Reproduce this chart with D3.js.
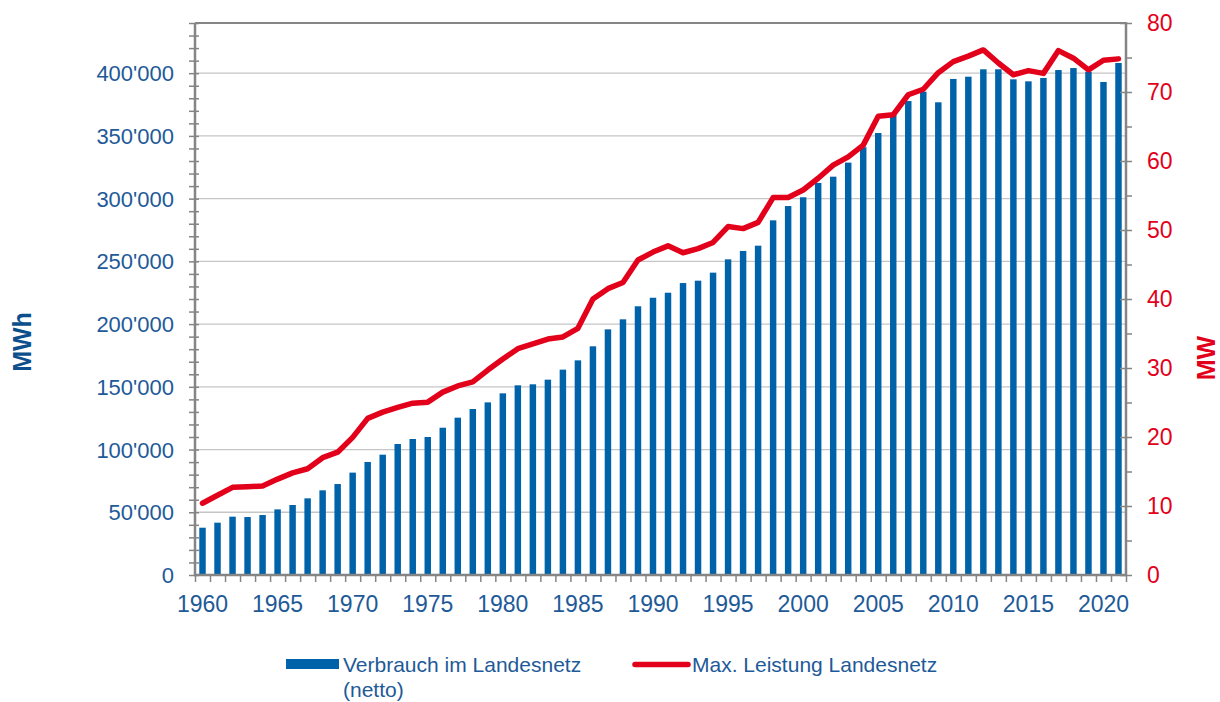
<!DOCTYPE html>
<html>
<head>
<meta charset="utf-8">
<script src="https://cdn.jsdelivr.net/npm/d3@7"></script>
<style>
  body { margin: 0; background: #fff; }
  svg text { font-family: "Liberation Sans", Arial, sans-serif; }
</style>
</head>
<body>
<div id="chart"></div>
<script>
// categories
var years = [1960, 1961, 1962, 1963, 1964, 1965, 1966, 1967, 1968, 1969,
    1970, 1971, 1972, 1973, 1974, 1975, 1976, 1977, 1978, 1979,
    1980, 1981, 1982, 1983, 1984, 1985, 1986, 1987, 1988, 1989,
    1990, 1991, 1992, 1993, 1994, 1995, 1996, 1997, 1998, 1999,
    2000, 2001, 2002, 2003, 2004, 2005, 2006, 2007, 2008, 2009,
    2010, 2011, 2012, 2013, 2014, 2015, 2016, 2017, 2018, 2019,
    2020, 2021];

// Verbrauch im Landesnetz (netto), MWh
var verbrauch = [37700, 41700, 46500, 46200, 47800, 52300, 55800, 61100, 67500, 72500,
    81600, 90100, 95900, 104400, 108400, 110000, 117400, 125400, 132300, 137600,
    144800, 151200, 152000, 155700, 163700, 171100, 182300, 195800, 203800, 214200,
    221000, 225000, 232700, 234600, 241000, 251600, 258300, 262500, 282700, 294100,
    301100, 312500, 317500, 328700, 341000, 352300, 367000, 377800, 385200, 376800,
    395400, 397200, 403100, 403100, 395100, 393500, 396200, 402500, 404100, 401200,
    393000, 408100];

// Max. Leistung Landesnetz, MW
var leistung = [10.4, 11.55, 12.7, 12.8, 12.9, 13.9, 14.8, 15.4, 17.0, 17.8,
    19.95, 22.7, 23.6, 24.3, 24.9, 25.05, 26.5, 27.4, 28.0, 29.7,
    31.3, 32.8, 33.5, 34.2, 34.5, 35.75, 40.0, 41.5, 42.4, 45.65,
    46.8, 47.7, 46.7, 47.3, 48.2, 50.5, 50.2, 51.1, 54.7, 54.7,
    55.8, 57.5, 59.4, 60.6, 62.3, 66.5, 66.7, 69.6, 70.4, 72.8,
    74.4, 75.2, 76.1, 74.2, 72.5, 73.1, 72.7, 76.0, 74.9, 73.2,
    74.6, 74.8];

// tick labels
var leftTicks = [0, 50000, 100000, 150000, 200000, 250000, 300000, 350000, 400000];
var rightTicks = [0, 10, 20, 30, 40, 50, 60, 70, 80];
var yearLabels = [1960, 1965, 1970, 1975, 1980, 1985, 1990, 1995, 2000, 2005, 2010, 2015, 2020];

var legendNames = ["Verbrauch im Landesnetz", "(netto)", "Max. Leistung Landesnetz"];

var blue = "#0062a8",
    red = "#e2001a",
    leftCol = "#1e5a98",
    grey = "#858585";

var W = 1220, H = 702;
var plot = { left: 195, right: 1126, top: 23, bottom: 575 };

var svg = d3.select("#chart").append("svg")
    .attr("width", W)
    .attr("height", H);

// scales
var x = d3.scaleBand()
    .domain(years)
    .range([plot.left, plot.right])
    .paddingInner(0.57)
    .paddingOuter(0.285);
var xEdge = d3.scaleLinear()
    .domain([years[0], years[years.length - 1] + 1])
    .range([plot.left, plot.right]);
var yL = d3.scaleLinear().domain([0, 440000]).range([plot.bottom, plot.top]);
var yR = d3.scaleLinear().domain([0, 80]).range([plot.bottom, plot.top]);

var fmt = d3.formatLocale({ decimal: ".", thousands: "'", grouping: [3], currency: ["", ""] }).format(",");

// gridlines
svg.append("g")
    .selectAll("line")
    .data(leftTicks.filter(function (d) { return d > 0; }))
    .enter().append("line")
    .attr("x1", plot.left)
    .attr("x2", plot.right)
    .attr("y1", function (d) { return yL(d); })
    .attr("y2", function (d) { return yL(d); })
    .attr("stroke", "#c6c6c6")
    .attr("stroke-width", 1.3);

// bars
svg.append("g")
    .selectAll("rect")
    .data(years)
    .enter().append("rect")
    .attr("x", function (d) { return x(d); })
    .attr("width", x.bandwidth())
    .attr("y", function (d, i) { return yL(verbrauch[i]); })
    .attr("height", function (d, i) { return plot.bottom - yL(verbrauch[i]); })
    .attr("fill", blue);

// line
var line = d3.line()
    .x(function (d, i) { return x(years[i]) + x.bandwidth() / 2; })
    .y(function (d) { return yR(d); });
svg.append("path")
    .datum(leistung)
    .attr("d", line)
    .attr("fill", "none")
    .attr("stroke", red)
    .attr("stroke-width", 5.5)
    .attr("stroke-linejoin", "round")
    .attr("stroke-linecap", "round");

// top border
svg.append("line")
    .attr("x1", plot.left).attr("x2", plot.right)
    .attr("y1", plot.top).attr("y2", plot.top)
    .attr("stroke", grey).attr("stroke-width", 2);

// left axis
var gl = svg.append("g").attr("transform", "translate(" + plot.left + ",0)");
gl.call(d3.axisLeft(yL).tickValues(d3.range(0, 440001, 10000)).tickSize(6).tickFormat(""));
gl.selectAll(".tick line").attr("x2", -6).attr("x1", 4);
gl.select(".domain").remove();
gl.selectAll(".tick line").attr("stroke", grey).attr("stroke-width", 1.5);
gl.append("line").attr("y1", plot.top).attr("y2", plot.bottom + 1)
    .attr("stroke", grey).attr("stroke-width", 2.5);
gl.selectAll(".lbl")
    .data(leftTicks)
    .enter().append("text")
    .attr("x", -21)
    .attr("y", function (d) { return yL(d) + 8; })
    .attr("text-anchor", "end")
    .attr("fill", leftCol)
    .style("font-size", "22px")
    .text(fmt);

// right axis
var gr = svg.append("g").attr("transform", "translate(" + plot.right + ",0)");
gr.call(d3.axisRight(yR).tickValues(d3.range(0, 81, 5)).tickFormat(""));
gr.select(".domain").remove();
gr.selectAll(".tick line")
    .attr("x1", function (d) { return d % 10 === 0 ? -6 : 0; })
    .attr("x2", 6)
    .attr("stroke", grey).attr("stroke-width", 1.5);
gr.append("line").attr("y1", plot.top - 1).attr("y2", plot.bottom + 1)
    .attr("stroke", grey).attr("stroke-width", 2.5);
gr.selectAll(".lbl")
    .data(rightTicks)
    .enter().append("text")
    .attr("x", 21)
    .attr("y", function (d) { return yR(d) + 8; })
    .attr("fill", red)
    .style("font-size", "23px")
    .text(function (d) { return d; });

// bottom axis
var gb = svg.append("g").attr("transform", "translate(0," + plot.bottom + ")");
gb.call(d3.axisBottom(xEdge).tickValues(d3.range(years[0], years[years.length - 1] + 2)).tickSize(7).tickFormat(""));
gb.select(".domain").remove();
gb.selectAll(".tick line").attr("stroke", grey).attr("stroke-width", 1.5);
gb.append("line").attr("x1", plot.left - 1).attr("x2", plot.right + 1)
    .attr("stroke", grey).attr("stroke-width", 2.5);
gb.selectAll(".lbl")
    .data(yearLabels)
    .enter().append("text")
    .attr("x", function (d) { return x(d) + x.bandwidth() / 2; })
    .attr("y", 37)
    .attr("text-anchor", "middle")
    .attr("fill", leftCol)
    .style("font-size", "23px")
    .text(function (d) { return d; });

// axis titles
svg.append("text")
    .attr("transform", "translate(31,342) rotate(-90)")
    .attr("text-anchor", "middle")
    .attr("fill", "#0d4f8c")
    .style("font-size", "25px")
    .style("font-weight", "bold")
    .text("MWh");
svg.append("text")
    .attr("transform", "translate(1215,358) rotate(-90)")
    .attr("text-anchor", "middle")
    .attr("fill", red)
    .style("font-size", "25px")
    .style("font-weight", "bold")
    .text("MW");

// legend
var lg = svg.append("g");
lg.append("rect")
    .attr("x", 286).attr("y", 659)
    .attr("width", 53).attr("height", 10)
    .attr("fill", blue);
lg.append("text").attr("x", 343).attr("y", 672)
    .attr("fill", leftCol).style("font-size", "21px").text(legendNames[0]);
lg.append("text").attr("x", 343).attr("y", 697)
    .attr("fill", leftCol).style("font-size", "21px").text(legendNames[1]);
lg.append("line")
    .attr("x1", 635).attr("x2", 688)
    .attr("y1", 664.5).attr("y2", 664.5)
    .attr("stroke", red).attr("stroke-width", 5.5)
    .attr("stroke-linecap", "round");
lg.append("text").attr("x", 692).attr("y", 672)
    .attr("fill", leftCol).style("font-size", "21px").text(legendNames[2]);
</script>
</body>
</html>
